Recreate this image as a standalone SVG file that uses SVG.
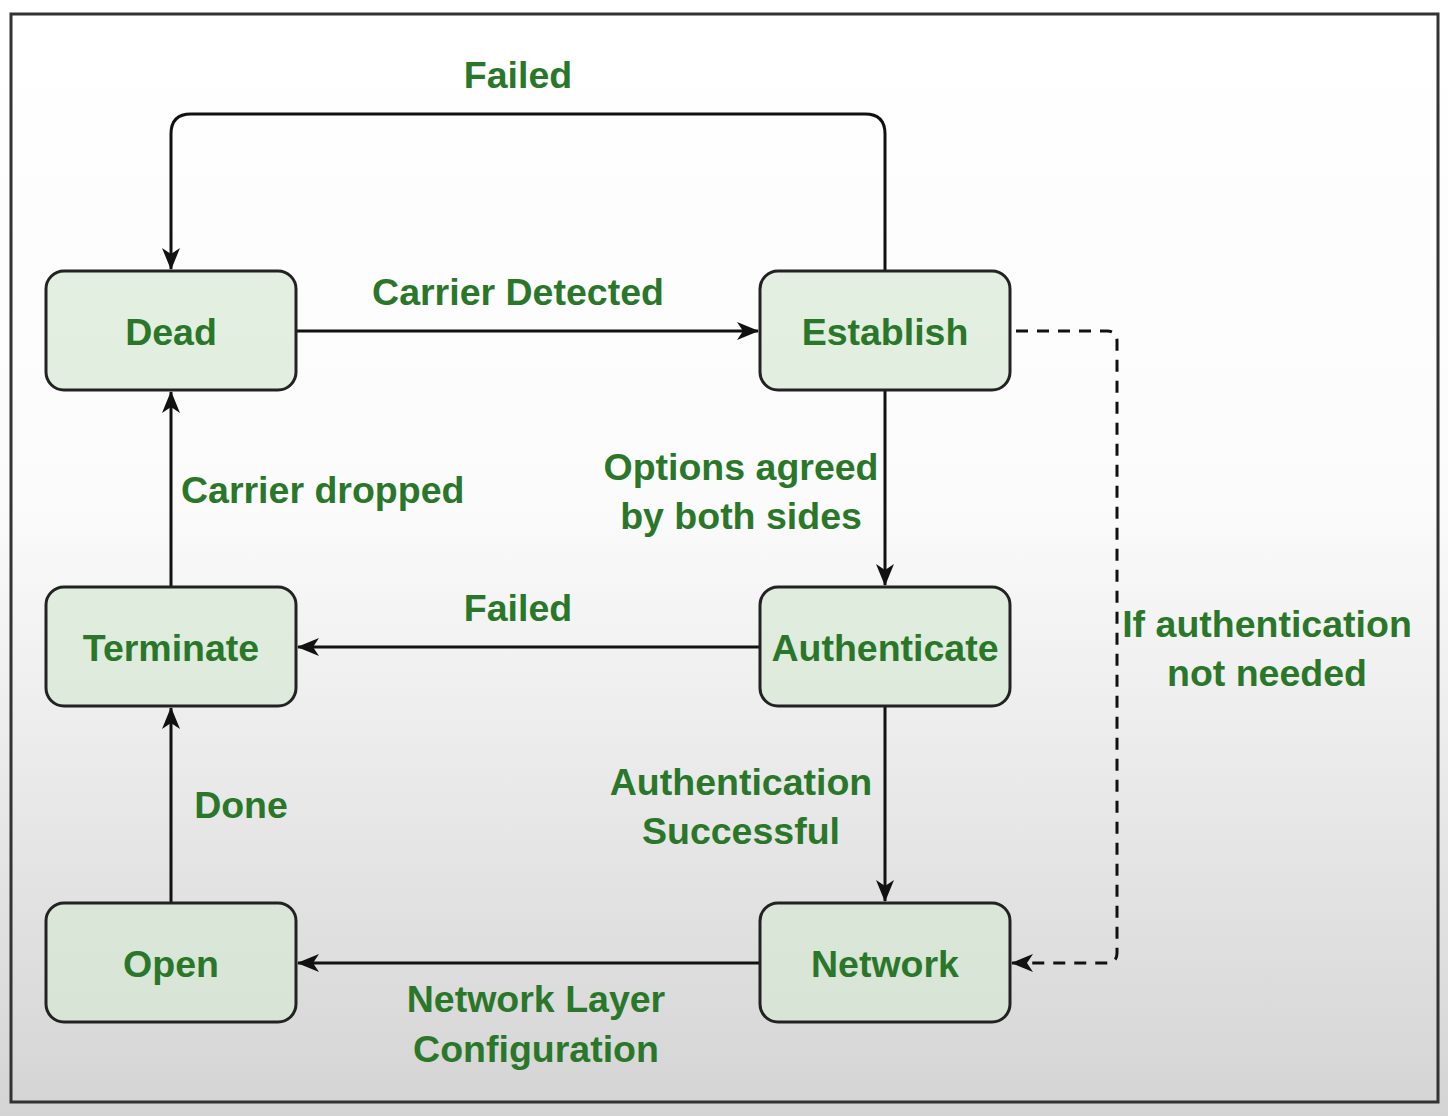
<svg xmlns="http://www.w3.org/2000/svg" width="1448" height="1116" viewBox="0 0 1448 1116">
<defs>
<linearGradient id="bg" x1="0" y1="0" x2="0" y2="1">
<stop offset="0" stop-color="#ffffff"/>
<stop offset="0.45" stop-color="#fbfbfb"/>
<stop offset="1" stop-color="#d4d4d4"/>
</linearGradient>
<marker id="arr" viewBox="0 0 22 18" refX="21" refY="9" markerWidth="22" markerHeight="18" markerUnits="userSpaceOnUse" orient="auto">
<path d="M0,0 L22,9 L0,18 L6,9 Z" fill="#111"/>
</marker>
</defs>
<style>
.node rect{fill:#d5e8d4;fill-opacity:0.7;stroke:#222;stroke-width:3}
.nt{font-family:"Liberation Sans",Arial,sans-serif;font-weight:bold;font-size:37.5px;fill:#2a772a;text-anchor:middle}
.lb{font-family:"Liberation Sans",Arial,sans-serif;font-weight:bold;font-size:37.5px;fill:#2a772a;text-anchor:middle}
.edge{fill:none;stroke:#111;stroke-width:3;marker-end:url(#arr)}
.dash{stroke-dasharray:12 9}
</style>
<rect x="0" y="0" width="1448" height="1116" fill="url(#bg)"/>
<rect x="11" y="14" width="1427" height="1088" fill="none" stroke="#333" stroke-width="3"/>
<g id="connectors">
<path class="edge" d="M885,271 V134 Q885,114 865,114 H191 Q171,114 171,134 V269"/>
<path class="edge" d="M296,331 H758"/>
<path class="edge" d="M885,390 V585"/>
<path class="edge" d="M760,647 H298"/>
<path class="edge" d="M171,587 V392"/>
<path class="edge" d="M885,706 V901"/>
<path class="edge" d="M760,963 H298"/>
<path class="edge" d="M171,903 V708"/>
<path class="edge dash" d="M1016,331 H1107 Q1117,331 1117,341 V953 Q1117,963 1107,963 H1012"/>
</g>
<g id="labels">
<text class="lb" x="518" y="88">Failed</text>
<text class="lb" x="518" y="305">Carrier Detected</text>
<text class="lb" x="741" y="480">Options agreed</text>
<text class="lb" x="741" y="529">by both sides</text>
<text class="lb" x="181" y="503" style="text-anchor:start">Carrier dropped</text>
<text class="lb" x="518" y="621">Failed</text>
<text class="lb" x="1267" y="637">If authentication</text>
<text class="lb" x="1267" y="686">not needed</text>
<text class="lb" x="241" y="818">Done</text>
<text class="lb" x="741" y="795">Authentication</text>
<text class="lb" x="741" y="844">Successful</text>
<text class="lb" x="536" y="1012">Network Layer</text>
<text class="lb" x="536" y="1062">Configuration</text>
</g>
<g id="dead" class="node"><rect x="46" y="271" width="250" height="119" rx="18"/><text class="nt" x="171" y="345">Dead</text></g>
<g id="establish" class="node"><rect x="760" y="271" width="250" height="119" rx="18"/><text class="nt" x="885" y="345">Establish</text></g>
<g id="terminate" class="node"><rect x="46" y="587" width="250" height="119" rx="18"/><text class="nt" x="171" y="661">Terminate</text></g>
<g id="authenticate" class="node"><rect x="760" y="587" width="250" height="119" rx="18"/><text class="nt" x="885" y="661">Authenticate</text></g>
<g id="open" class="node"><rect x="46" y="903" width="250" height="119" rx="18"/><text class="nt" x="171" y="977">Open</text></g>
<g id="network" class="node"><rect x="760" y="903" width="250" height="119" rx="18"/><text class="nt" x="885" y="977">Network</text></g>
</svg>
